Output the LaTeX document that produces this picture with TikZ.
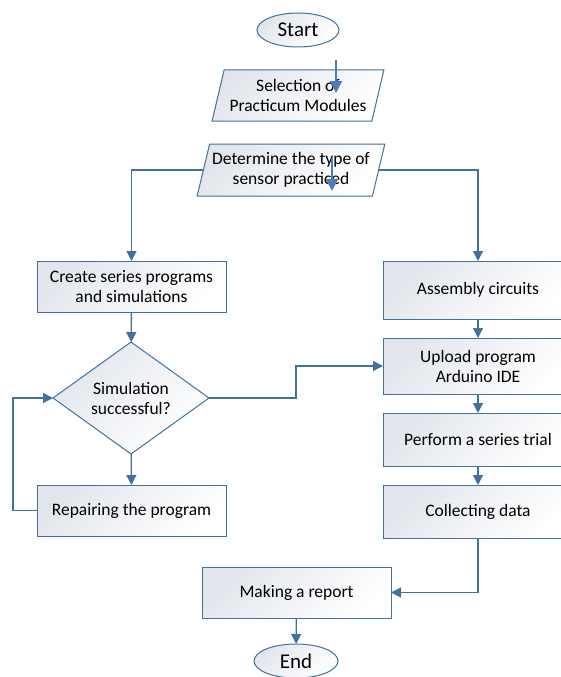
\documentclass[tikz,border=0pt]{standalone}
\usepackage{fontspec}
\setmainfont{Carlito}
\usetikzlibrary{
graphs,
positioning,
shapes.geometric,
arrows.meta,
}
\definecolor{flowline}{HTML}{41719C}
\definecolor{strayline}{HTML}{4A7EBB}
\definecolor{shadegray}{HTML}{E2E6EC}
\tikzset{
outer sep=0pt,
every node/.style={align=center, font=\fontsize{17.5}{20}\selectfont},
shaded/.style={top color=shadegray, bottom color=white, shading angle=45},
terminal/.style={ellipse, draw=flowline, line width=1pt, shaded, inner sep=0pt,
  minimum width=82pt, minimum height=34pt, font=\fontsize{21}{24}\selectfont},
process/.style={rectangle, draw=flowline, line width=1pt, shaded, inner sep=0pt,
  minimum width=189pt, minimum height=51pt},
data/.style={trapezium, trapezium left angle=71, trapezium right angle=109,
  trapezium stretches=true, draw=flowline, line width=1pt, shaded, inner sep=0pt},
decision/.style={diamond, draw=flowline, line width=1pt, shaded, inner sep=0pt,
  minimum width=156pt, minimum height=90pt},
flow/.style={draw=flowline, line width=1.3pt},
stray/.style={draw=strayline, line width=2pt, -{Triangle[length=12pt,width=12pt]}},
>={Triangle[length=10pt,width=10pt]},
}

\begin{document}
\begin{tikzpicture}[x=1pt, y=-1pt]
\useasboundingbox (0,0) rectangle (561,677);
\clip (0,0) rectangle (561,677);
% top
\node (start) [terminal] at (298,30) {Start};
\node (select) [data, minimum width=172pt, minimum height=51pt] at (298,95.5)
  {Selection of\\Practicum Modules};
\node (sensor) [data, minimum width=188pt, minimum height=52pt] at (291,170)
  {Determine the type of\\sensor practiced};
% left column
\node (create) [process] at (131.5,286.5) {Create series programs\\and simulations};
\node (simok) [decision] at (131,398) {Simulation\\successful?};
\node (repair) [process] at (131.5,510.5) {Repairing the program};
% right column
\node (assembly) [process, minimum width=190pt, minimum height=58pt] at (478,290) {Assembly circuits};
\node (upload) [process, minimum width=190pt, minimum height=56pt] at (478,366) {Upload program\\Arduino IDE};
\node (perform) [process, minimum width=190pt, minimum height=53pt] at (478,439.5) {Perform a series trial};
\node (collect) [process, minimum width=190pt, minimum height=53pt] at (478,511.5) {Collecting data};
% bottom
\node (report) [process] at (296.5,592.5) {Making a report};
\node (stop) [terminal, minimum width=84pt] at (296,661) {End};

\graph [use existing nodes, edges={flow}] {
    create -> simok -> repair;
    assembly -> upload -> perform -> collect;
    report -> stop;
};
\draw [flow, ->] (sensor.west) -| (create.north);
\draw [flow, ->] (sensor.east) -| (assembly.north);
\draw [flow, ->] (simok.east) -- ++(87,0) |- (upload.west);
\draw [flow, ->] (repair.west) -- ++(-24,0) |- (simok.west);
\draw [flow, ->] (collect.south) |- (report.east);
% loose arrows
\coordinate (s1) at (336,60);
\coordinate (s1e) at (336,93);
\coordinate (s2) at (332,158);
\coordinate (s2e) at (332,191);
\draw [stray] (s1) -- (s1e);
\draw [stray] (s2) -- (s2e);
\end{tikzpicture}
\end{document}
